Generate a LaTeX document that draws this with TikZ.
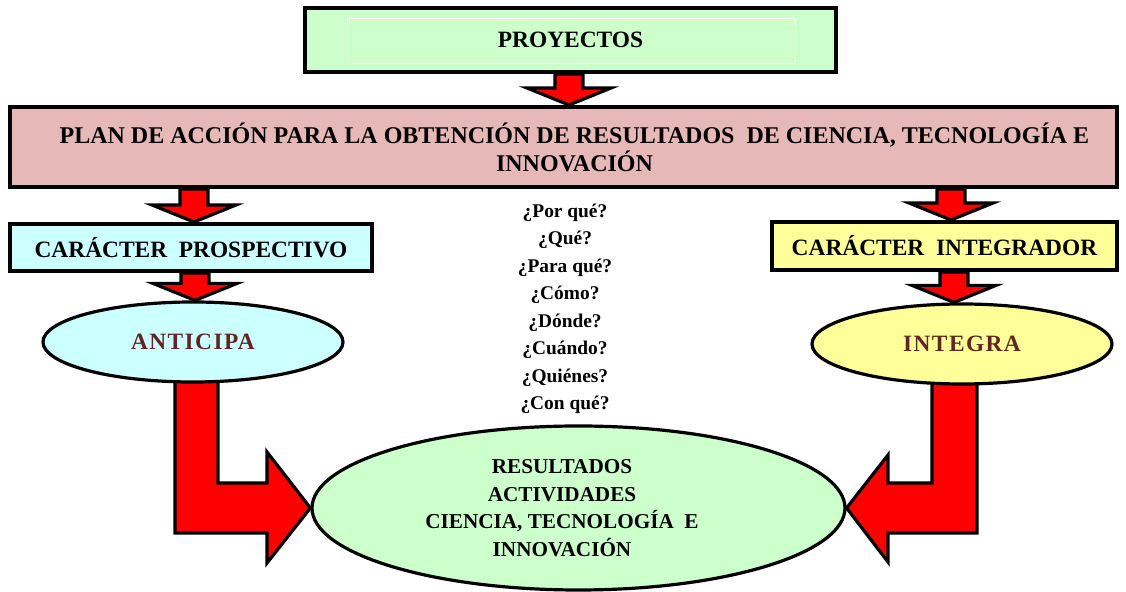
\documentclass[tikz,border=0pt]{standalone}
\usepackage{fontspec}
\setmainfont{Liberation Serif}
\newfontfamily\espaciada[LetterSpace=6]{Liberation Serif}
\usetikzlibrary{shapes.geometric,calc,backgrounds}
\definecolor{verdeclaro}{HTML}{CCFFCC}
\definecolor{rosa}{HTML}{E6B9B8}
\definecolor{celeste}{HTML}{CCFFFF}
\definecolor{amarillo}{HTML}{FFFF99}
\definecolor{granate}{HTML}{632523}
\begin{document}
\begin{tikzpicture}[x=0.5pt,y=-0.5pt,
    caja/.style={draw,line width=2pt,align=center,inner sep=0pt,font=\bfseries\fontsize{11.7}{14}\selectfont},
    elipse/.style={ellipse,draw,line width=1.6pt,inner sep=0pt,align=center,font=\espaciada\bfseries\fontsize{11.7}{14}\selectfont},
    flecha/.style={fill=red,draw=black,line width=1.6pt,line join=miter}]
    \useasboundingbox (0,0) rectangle (1126,592);
    \node[caja,fill=verdeclaro,minimum width=265.5pt,minimum height=32pt] (proy) at (570.5,40) {PROYECTOS};
    \draw[white,thin] (347,18) rectangle (795,63);
    \node[caja,fill=rosa,minimum width=553.5pt,minimum height=40pt,font=\bfseries\fontsize{12}{14}\selectfont] (plan) at (563.5,147)
        {\hspace{11pt}PLAN DE ACCIÓN PARA LA OBTENCIÓN DE RESULTADOS\ \ DE CIENCIA, TECNOLOGÍA E\\\hspace{11pt}INNOVACIÓN};
    \node[caja,fill=celeste,minimum width=181pt,minimum height=23.5pt] (prosp) at (191,247.5) {CARÁCTER\ \ PROSPECTIVO};
    \node[caja,fill=amarillo,minimum width=172.5pt,minimum height=24pt] (integ) at (944.5,246) {CARÁCTER\ \ INTEGRADOR};
    \node[elipse,fill=celeste,minimum width=150pt,minimum height=40pt,text=granate] (anticipa) at (193,342) {ANTICIPA};
    \node[elipse,fill=amarillo,minimum width=150pt,minimum height=40pt,text=granate] (integra) at (962,344) {INTEGRA};
    \node[elipse,fill=verdeclaro,minimum width=266.5pt,minimum height=82pt] (resultados) at (578.5,508) {};
    \node[align=center,font=\bfseries\fontsize{10.6}{13.8}\selectfont] (restexto) at (562,508)
        {RESULTADOS\\ACTIVIDADES\\CIENCIA, TECNOLOGÍA\ \ E\\INNOVACIÓN};
    \node[align=center,font=\bfseries\fontsize{9.7}{13.75}\selectfont] (preguntas) at (565,309)
        {¿Por qué?\\¿Qué?\\¿Para qué?\\¿Cómo?\\¿Dónde?\\¿Cuándo?\\¿Quiénes?\\¿Con qué?};
    \begin{scope}[on background layer]
    \foreach \from/\to/\xx in {proy/plan/569, plan/prosp/194, prosp/anticipa/195, plan/integ/951, integ/integra/954}
        \draw[flecha] let \p1=(\xx,0 |- \from.south), \p2=(\xx,0 |- \to.north) in
            (\x1-7pt,\y1) -- (\x1+7pt,\y1) -- (\x1+7pt,\y2+8.5pt) -- (\x1+21pt,\y2+8.5pt)
            -- (\x1,\y2) -- (\x1-21pt,\y2+8.5pt) -- (\x1-7pt,\y2+8.5pt) -- cycle;
    \draw[flecha] (175,0 |- anticipa.center) -- (218,0 |- anticipa.center) -- (218,483) -- (267,483) -- (267,452)
        -- (resultados.west) -- (267,563) -- (267,533) -- (175,533) -- cycle;
    \draw[flecha] (977,0 |- integra.center) -- (932,0 |- integra.center) -- (932,483) -- (888,483) -- (888,455)
        -- (resultados.east) -- (888,562) -- (888,533) -- (977,533) -- cycle;
    \end{scope}
\end{tikzpicture}
\end{document}
